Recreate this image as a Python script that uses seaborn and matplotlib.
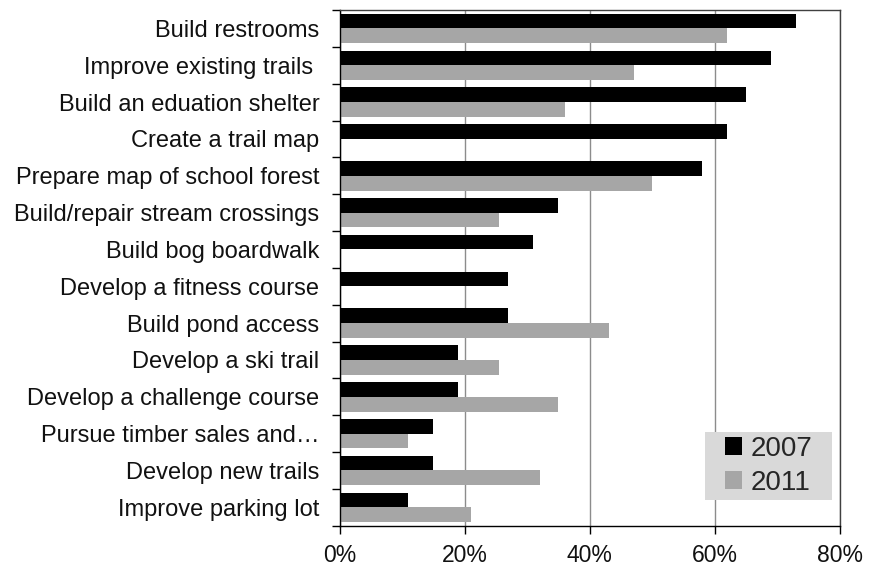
import numpy as np
import pandas as pd
import matplotlib
matplotlib.use("Agg")
import matplotlib.pyplot as plt
import seaborn as sns
from matplotlib.patches import Rectangle
from matplotlib.ticker import FixedLocator, PercentFormatter

sns.set_theme(style="white")
plt.rcParams["font.family"] = ["Liberation Sans", "DejaVu Sans"]

projects = [
    "Build restrooms",
    "Improve existing trails ",
    "Build an eduation shelter",
    "Create a trail map",
    "Prepare map of school forest",
    "Build/repair stream crossings",
    "Build bog boardwalk",
    "Develop a fitness course",
    "Build pond access",
    "Develop a ski trail",
    "Develop a challenge course",
    "Pursue timber sales and\u2026",
    "Develop new trails",
    "Improve parking lot",
]
pct_2007 = [73, 69, 65, 62, 58, 35, 31, 27, 27, 19, 19, 15, 15, 11]
pct_2011 = [62, 47, 36, np.nan, 50, 25.5, np.nan, np.nan, 43, 25.5, 35, 11, 32, 21]
years = ["2007", "2011"]
palette = {"2007": "#000000", "2011": "#a6a6a6"}

df = pd.DataFrame({
    "project": projects * 2,
    "year": [years[0]] * len(projects) + [years[1]] * len(projects),
    "pct": list(pct_2007) + list(pct_2011),
})

fig = plt.figure(figsize=(8.83, 5.73), dpi=100)
ax = fig.add_axes([0.3845, 0.0825, 0.5668, 0.9000])

sns.barplot(data=df, y="project", x="pct", hue="year", order=projects,
            hue_order=years, palette=palette, orient="h", width=0.8,
            saturation=1, edgecolor="none", ax=ax, legend=True)

ax.set_xlim(0, 80)
ax.set_ylim(len(projects) - 0.5, -0.5)
ax.set_xticks([0, 20, 40, 60, 80])
ax.xaxis.set_major_formatter(PercentFormatter(decimals=0))
ax.set_xlabel("")
ax.set_ylabel("")

# vertical gridlines
ax.grid(axis="x", color="#8c8c8c", linewidth=1.0)
ax.set_axisbelow(True)

# category separators as tick marks on the left axis
ax.yaxis.set_minor_locator(FixedLocator(np.arange(-0.5, len(projects), 1.0)))
ax.tick_params(axis="y", which="major", length=0, pad=14.5, labelsize=17,
               labelcolor="#111111")
ax.tick_params(axis="y", which="minor", left=True, length=5.5, width=1.0,
               color="#000000")
ax.tick_params(axis="x", which="major", bottom=True, length=5.5, width=1.0,
               color="#000000", pad=8, labelsize=16.5, labelcolor="#111111")

for side in ["left", "bottom"]:
    ax.spines[side].set_color("#000000")
    ax.spines[side].set_linewidth(1.0)
for side in ["top", "right"]:
    ax.spines[side].set_visible(True)
    ax.spines[side].set_color("#404040")
    ax.spines[side].set_linewidth(1.0)

# legend without its own frame; a wider grey panel is placed behind it
handles, labels = ax.get_legend_handles_labels()
leg = ax.legend(handles, labels, loc="lower right",
                bbox_to_anchor=(0.944, 0.058), borderaxespad=0,
                fontsize=20, frameon=False,
                handlelength=0.6, handleheight=0.6, handletextpad=0.3,
                labelspacing=0.28, borderpad=0.0)
leg.set_zorder(6)

fig.canvas.draw()
bb = leg.get_window_extent()
pad_x, pad_y = 20, 4
x0, y0 = fig.transFigure.inverted().transform((bb.x0 - pad_x, bb.y0 - pad_y))
x1, y1 = fig.transFigure.inverted().transform((bb.x1 + pad_x, bb.y1 + pad_y))
ax.add_patch(Rectangle((x0, y0), x1 - x0, y1 - y0,
                       transform=fig.transFigure, facecolor="#d9d9d9",
                       edgecolor="none", zorder=5, clip_on=False))

fig.savefig("out.png", dpi=100)
